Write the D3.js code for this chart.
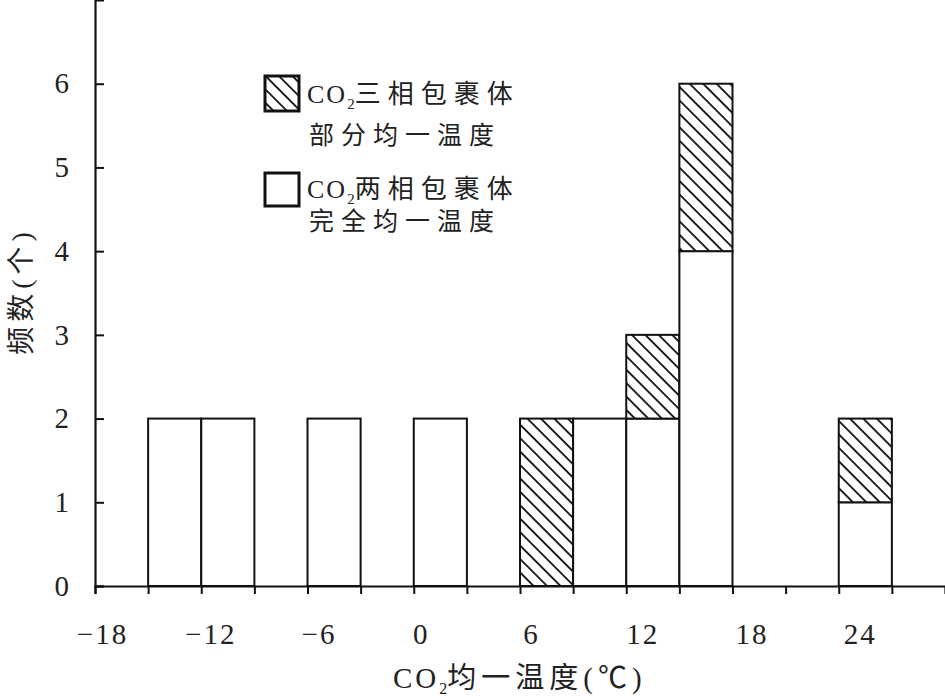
<!DOCTYPE html>
<html>
<head>
<meta charset="utf-8">
<script src="https://cdn.jsdelivr.net/npm/d3@7"></script>
<style>
  html, body { margin: 0; padding: 0; background: #fff; }
  svg { display: block; }
  text { font-family: 'Liberation Serif', 'Noto Sans CJK SC', serif; fill: #222; }
</style>
</head>
<body>
<svg id="chart" width="945" height="696"></svg>
<script>
// ---- data ----
const binStarts = [-15, -12, -6, 0, 6, 9, 12, 15, 24];   // bin lower edge (°C), width 3
const completeHom = [2, 2, 2, 2, 0, 2, 2, 4, 1];          // CO2 two-phase, complete homogenization (white)
const partialHom  = [0, 0, 0, 0, 2, 0, 1, 2, 1];          // CO2 three-phase, partial homogenization (hatched)
const binWidth = 3;
const xTickValues = [-18, -15, -12, -9, -6, -3, 0, 3, 6, 9, 12, 15, 18, 21, 24, 27];
const xTickLabels = [-18, -12, -6, 0, 6, 12, 18, 24];
const yTickValues = [0, 1, 2, 3, 4, 5, 6];

// label nudges as in the original print (style only)
const xLabelNudge = { '-18': 7, '-12': 9, '-6': 11, '0': 7, '6': 11, '12': 16, '18': 19, '24': 21 };

const svg = d3.select('#chart');
const x = d3.scaleLinear().domain([-18, 30]).range([95, 945]);
const y = d3.scaleLinear().domain([0, 7]).range([586, 0]);

// hatch pattern
const defs = svg.append('defs');
defs.append('pattern')
  .attr('id', 'hatch')
  .attr('patternUnits', 'userSpaceOnUse')
  .attr('width', 9.5).attr('height', 9.5)
  .attr('patternTransform', 'rotate(-45)')
  .call(p => {
    p.append('rect').attr('width', 9.5).attr('height', 9.5).attr('fill', '#fff');
    p.append('line').attr('x1', 1).attr('y1', 0).attr('x2', 1).attr('y2', 9.5)
      .attr('stroke', '#111').attr('stroke-width', 1.8);
  });

// bars
const rows = binStarts.map((s, i) => ({ s, c: completeHom[i], p: partialHom[i] }));
const gBars = svg.append('g');
rows.forEach(r => {
  if (r.c > 0) {
    gBars.append('rect')
      .attr('x', x(r.s)).attr('width', x(r.s + binWidth) - x(r.s))
      .attr('y', y(r.c)).attr('height', y(0) - y(r.c))
      .attr('fill', '#fff').attr('stroke', '#111').attr('stroke-width', 2);
  }
  if (r.p > 0) {
    gBars.append('rect')
      .attr('x', x(r.s)).attr('width', x(r.s + binWidth) - x(r.s))
      .attr('y', y(r.c + r.p)).attr('height', y(r.c) - y(r.c + r.p))
      .attr('fill', 'url(#hatch)').attr('stroke', '#111').attr('stroke-width', 2);
  }
});

// x axis
const xAxis = d3.axisBottom(x).tickValues(xTickValues).tickSize(8)
  .tickFormat(d => xTickLabels.includes(d) ? (d < 0 ? '\u2212' + Math.abs(d) : String(d)) : '');
const gx = svg.append('g').attr('transform', `translate(0,${y(0)})`).call(xAxis);
gx.select('.domain').attr('stroke', '#111').attr('stroke-width', 2.2);
gx.selectAll('.tick line').attr('stroke', '#111').attr('stroke-width', 2);
gx.selectAll('.tick text').attr('y', 37).attr('font-size', 29).attr('letter-spacing', 2)
  .attr('dx', d => xLabelNudge[String(d)] || 0)
  .attr('font-family', "'Liberation Serif', serif").attr('fill', '#222');

// y axis
const yAxis = d3.axisLeft(y).tickValues(yTickValues).tickSize(-9).tickFormat(d3.format('d'));
const gy = svg.append('g').attr('transform', `translate(${x(-18)},0)`).call(yAxis);
gy.select('.domain').attr('stroke', '#111').attr('stroke-width', 2.2);
gy.selectAll('.tick line').attr('stroke', '#111').attr('stroke-width', 2);
gy.selectAll('.tick text').attr('x', -26).attr('font-size', 29)
  .attr('font-family', "'Liberation Serif', serif").attr('fill', '#222');

// axis titles
const xt = svg.append('text').attr('x', 393).attr('y', 688).attr('font-size', 29);
xt.append('tspan').attr('letter-spacing', 3).text('CO');
xt.append('tspan').attr('font-size', 16).attr('dy', 6).text('2');
xt.append('tspan').attr('dy', -6).attr('letter-spacing', 5).text('均一温度(℃)');

svg.append('text').attr('transform', 'translate(31,291) rotate(-90)')
  .attr('text-anchor', 'middle').attr('font-size', 28).attr('letter-spacing', 5)
  .text('频数(个)');

// legend
const lg = svg.append('g');
lg.append('rect').attr('x', 265).attr('y', 76).attr('width', 34).attr('height', 35)
  .attr('fill', 'url(#hatch)').attr('stroke', '#111').attr('stroke-width', 3);
lg.append('rect').attr('x', 265).attr('y', 173).attr('width', 34).attr('height', 33)
  .attr('fill', '#fff').attr('stroke', '#111').attr('stroke-width', 3);

function legendLine(yPos, label) {
  const t = lg.append('text').attr('x', 307).attr('y', yPos).attr('font-size', 26);
  t.append('tspan').attr('letter-spacing', 2).text('CO');
  t.append('tspan').attr('font-size', 15).attr('dy', 6).text('2');
  t.append('tspan').attr('dy', -6).attr('letter-spacing', 7).text(label);
}
legendLine(103, '三相包裹体');
lg.append('text').attr('x', 309).attr('y', 144).attr('font-size', 25).attr('letter-spacing', 7).text('部分均一温度');
legendLine(198, '两相包裹体');
lg.append('text').attr('x', 309).attr('y', 230).attr('font-size', 25).attr('letter-spacing', 7).text('完全均一温度');
</script>
</body>
</html>
